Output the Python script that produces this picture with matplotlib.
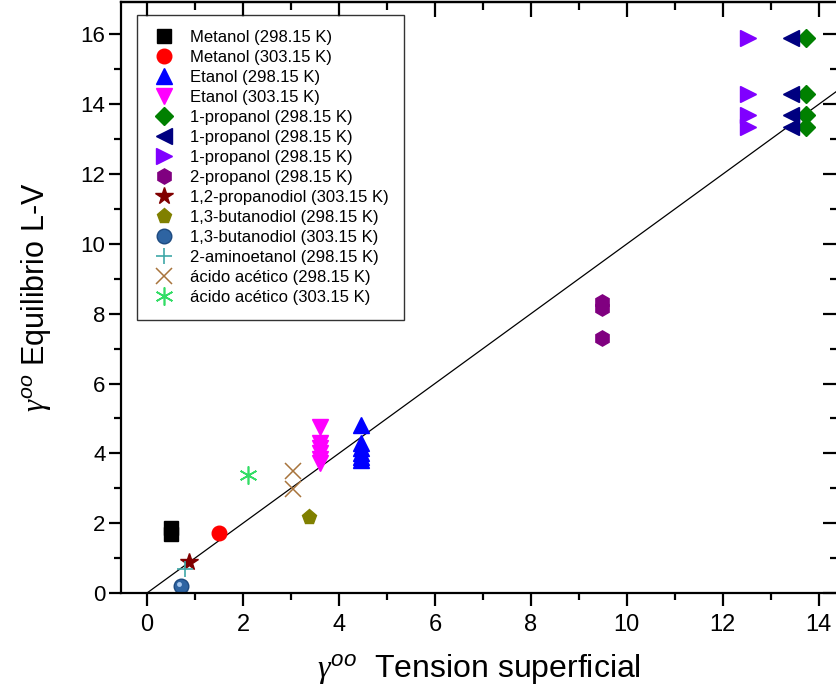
import matplotlib
matplotlib.use("Agg")
import matplotlib.pyplot as plt
from matplotlib.ticker import MultipleLocator

# data (x: gamma from surface tension, y: gamma from L-V equilibrium)
met298_x = [0.5, 0.5]
met298_y = [1.68, 1.85]
met303_x = [1.5]
met303_y = [1.72]
eta298_x = [4.45] * 6
eta298_y = [4.8, 4.3, 4.15, 4.0, 3.9, 3.8]
eta303_x = [3.6] * 6
eta303_y = [4.75, 4.3, 4.15, 4.0, 3.85, 3.72]
prop1a_x = [13.74] * 4
prop1a_y = [15.9, 14.3, 13.7, 13.35]
prop1b_x = [13.43] * 4
prop1b_y = [15.9, 14.3, 13.7, 13.35]
prop1c_x = [12.52] * 4
prop1c_y = [15.9, 14.3, 13.7, 13.35]
prop2_x = [9.49, 9.49, 9.49]
prop2_y = [8.35, 8.15, 7.3]
propdiol_x = [0.88]
propdiol_y = [0.9]
but298_x = [3.38]
but298_y = [2.19]
but303_x = [0.7]
but303_y = [0.2]
amino_x = [0.8]
amino_y = [0.7]
acet298_x = [3.05, 3.05]
acet298_y = [3.5, 2.97]
acet303_x = [2.1]
acet303_y = [3.38]

fit_x = [0, 14.5]
fit_y = [0, 14.5]

plt.rcParams["font.family"] = "Liberation Sans"
plt.rcParams["mathtext.fontset"] = "custom"
plt.rcParams["mathtext.it"] = "Liberation Serif:italic"
plt.rcParams["mathtext.rm"] = "Liberation Sans"
plt.rcParams["mathtext.sf"] = "Liberation Sans:italic"

fig = plt.figure(figsize=(8.36, 7.0), dpi=100)
ax = fig.add_axes([120.7 / 836, 1 - 593 / 700, (838 - 120.7) / 836, 591 / 700])

ax.plot(fit_x, fit_y, color="black", lw=0.9, zorder=1)

ax.plot(met298_x, met298_y, "s", color="black", ms=9.5, label="Metanol (298.15 K)")
ax.plot(met303_x, met303_y, "o", color="red", ms=10.5, label="Metanol (303.15 K)")
ax.plot(eta298_x, eta298_y, "^", color="blue", ms=11, label="Etanol (298.15 K)")
ax.plot(eta303_x, eta303_y, "v", color="magenta", ms=11, label="Etanol (303.15 K)")
ax.plot(prop1a_x, prop1a_y, "D", color="#008000", ms=9, label="1-propanol (298.15 K)")
ax.plot(prop1b_x, prop1b_y, "<", color="#000080", ms=11, label="1-propanol (298.15 K)")
ax.plot(prop1c_x, prop1c_y, ">", color="#8000ff", ms=11, label="1-propanol (298.15 K)")
ax.plot(prop2_x, prop2_y, "h", color="#800080", ms=11, label="2-propanol (298.15 K)")
ax.plot(propdiol_x, propdiol_y, "*", color="#800000", ms=13, label="1,2-propanodiol (303.15 K)")
ax.plot(but298_x, but298_y, "p", color="#808000", ms=11, label="1,3-butanodiol (298.15 K)")
ax.plot(but303_x, but303_y, "o", color="#2e64a2", mec="#1d4a80", ms=10.5, label="1,3-butanodiol (303.15 K)")
# little highlight to mimic the shaded sphere
ax.plot([v - 0.04 for v in but303_x], [v + 0.06 for v in but303_y], "o",
        color="#a8c8ee", mec="none", ms=3.5, zorder=5)
ax.plot(amino_x, amino_y, "+", color="#40a8a8", ms=12, mew=1.2, label="2-aminoetanol (298.15 K)")
ax.plot(acet298_x, acet298_y, "x", color="#a8743c", ms=12, mew=1.1, label="ácido acético (298.15 K)")
ax.plot(acet303_x, acet303_y, marker=(6, 2, 0), ls="none", color="#33dd66", ms=13, mew=1.2,
        label="ácido acético (303.15 K)")

ax.set_xlim(-0.548, 14.4)
ax.set_ylim(0, 16.93)

ax.xaxis.set_major_locator(MultipleLocator(2))
ax.xaxis.set_minor_locator(MultipleLocator(1))
ax.yaxis.set_major_locator(MultipleLocator(2))
ax.yaxis.set_minor_locator(MultipleLocator(1))

for s in ax.spines.values():
    s.set_linewidth(1.6)
ax.spines["right"].set_visible(False)

ax.tick_params(which="both", direction="out", width=1.6, top=False, right=False)
ax.tick_params(which="major", length=9)
ax.tick_params(which="minor", length=5)
ax.tick_params(axis="y", labelsize=16, pad=2)
ax.tick_params(axis="x", labelsize=17, pad=6)

# mirrored inward ticks on top and right
sec_x = ax.secondary_xaxis("top")
sec_x.xaxis.set_major_locator(MultipleLocator(2))
sec_x.xaxis.set_minor_locator(MultipleLocator(1))
sec_x.tick_params(which="both", direction="in", width=1.6, labeltop=False)
sec_x.tick_params(which="major", length=11)
sec_x.tick_params(which="minor", length=6)
sec_x.spines["top"].set_linewidth(1.6)
sec_y = ax.secondary_yaxis("right")
sec_y.yaxis.set_major_locator(MultipleLocator(2))
sec_y.yaxis.set_minor_locator(MultipleLocator(1))
sec_y.tick_params(which="both", direction="in", width=1.6, labelright=False)
sec_y.tick_params(which="major", length=11)
sec_y.tick_params(which="minor", length=6)
sec_y.spines["right"].set_visible(False)

ax.set_xlabel(r"$\gamma^{\mathsf{oo}}$  Tension superficial", fontsize=23, labelpad=12)
ax.set_ylabel(r"$\gamma^{\mathsf{oo}}$ Equilibrio L-V", fontsize=22, labelpad=20)

leg = ax.legend(loc="upper left", bbox_to_anchor=(0.0227, 0.978), borderaxespad=0,
                fontsize=12, frameon=True, fancybox=False, labelspacing=0.3,
                handletextpad=0.8, borderpad=0.9, handlelength=1.5, numpoints=1)
leg.get_frame().set_edgecolor("black")
leg.get_frame().set_linewidth(1.0)

fig.savefig("out.png", dpi=100)
